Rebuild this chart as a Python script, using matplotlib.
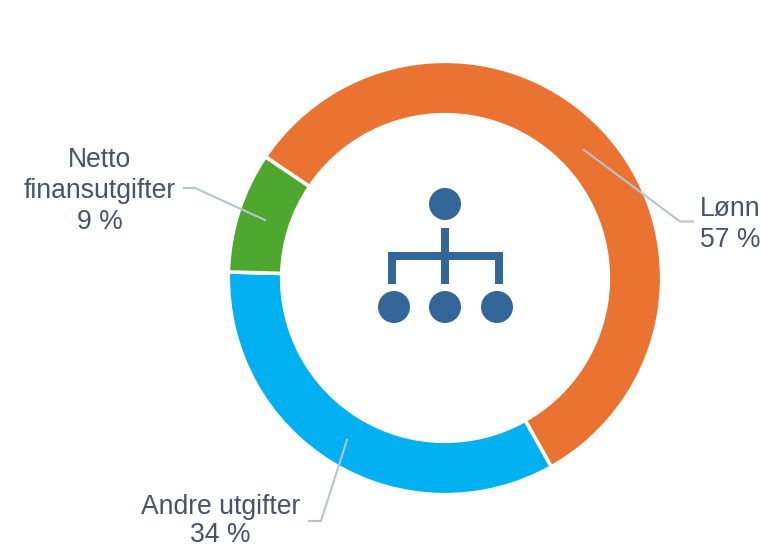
import matplotlib
matplotlib.use('Agg')
import matplotlib.pyplot as plt
from matplotlib.patches import Circle, Rectangle

plt.rcParams['font.family'] = ['Liberation Sans', 'DejaVu Sans']

names = ['Lønn', 'Andre utgifter', 'Netto\nfinansutgifter']
shares = [57.4, 33.6, 9.0]
share_labels = ['57 %', '34 %', '9 %']
slice_colors = ['#EB7332', '#00B0F0', '#4EA72E']

text_color = '#44546A'
line_color = '#B7C3D2'
icon_color = '#336699'

H = 548  # picture height, everything below is placed in pixels from the top

fig = plt.figure(figsize=(7.62, 5.48), dpi=100)
ax = fig.add_axes([0, 0, 1, 1])

ax.pie(shares, colors=slice_colors, center=(445, H - 278), radius=216.7,
       startangle=146, counterclock=False, frame=True,
       wedgeprops=dict(width=53.4, edgecolor='white', linewidth=2.6))
ax.set_xlim(0, 762)
ax.set_ylim(0, H)
ax.set_aspect('auto')
ax.axis('off')

# leader lines
leaders = [
    ([584, 680, 693], [150, 221.5, 221.5]),
    ([347, 321, 309], [440, 521, 521]),
    ([265, 195, 184], [220, 188, 188]),
]
for xs, ys in leaders:
    ax.plot(xs, [H - y for y in ys], color=line_color, lw=1.5, solid_joinstyle='miter')

# labels, one text per line so the baselines can be set
label_x = [730.5, 220.5, 99.5]
label_baselines = [[216, 247], [513.5, 542.5], [167, 198, 229]]
for name, lab, x, ys in zip(names, share_labels, label_x, label_baselines):
    for line, y in zip(name.split('\n') + [lab], ys):
        ax.text(x, H - y, line, ha='center', va='baseline', fontsize=19.1, color=text_color)

# org chart icon in the middle
for cx, cy in [(445, 204), (394, 307), (445, 307), (497, 307)]:
    ax.add_patch(Circle((cx, H - cy), 16, fc=icon_color, ec='none'))
for x0, y0, w, h in [(441, 228, 8, 55.5), (388, 252, 115, 7.5),
                     (388, 252, 8, 31.5), (495, 252, 8, 31.5)]:
    ax.add_patch(Rectangle((x0, H - y0 - h), w, h, fc=icon_color, ec='none'))

fig.savefig('out.png', dpi=100)
